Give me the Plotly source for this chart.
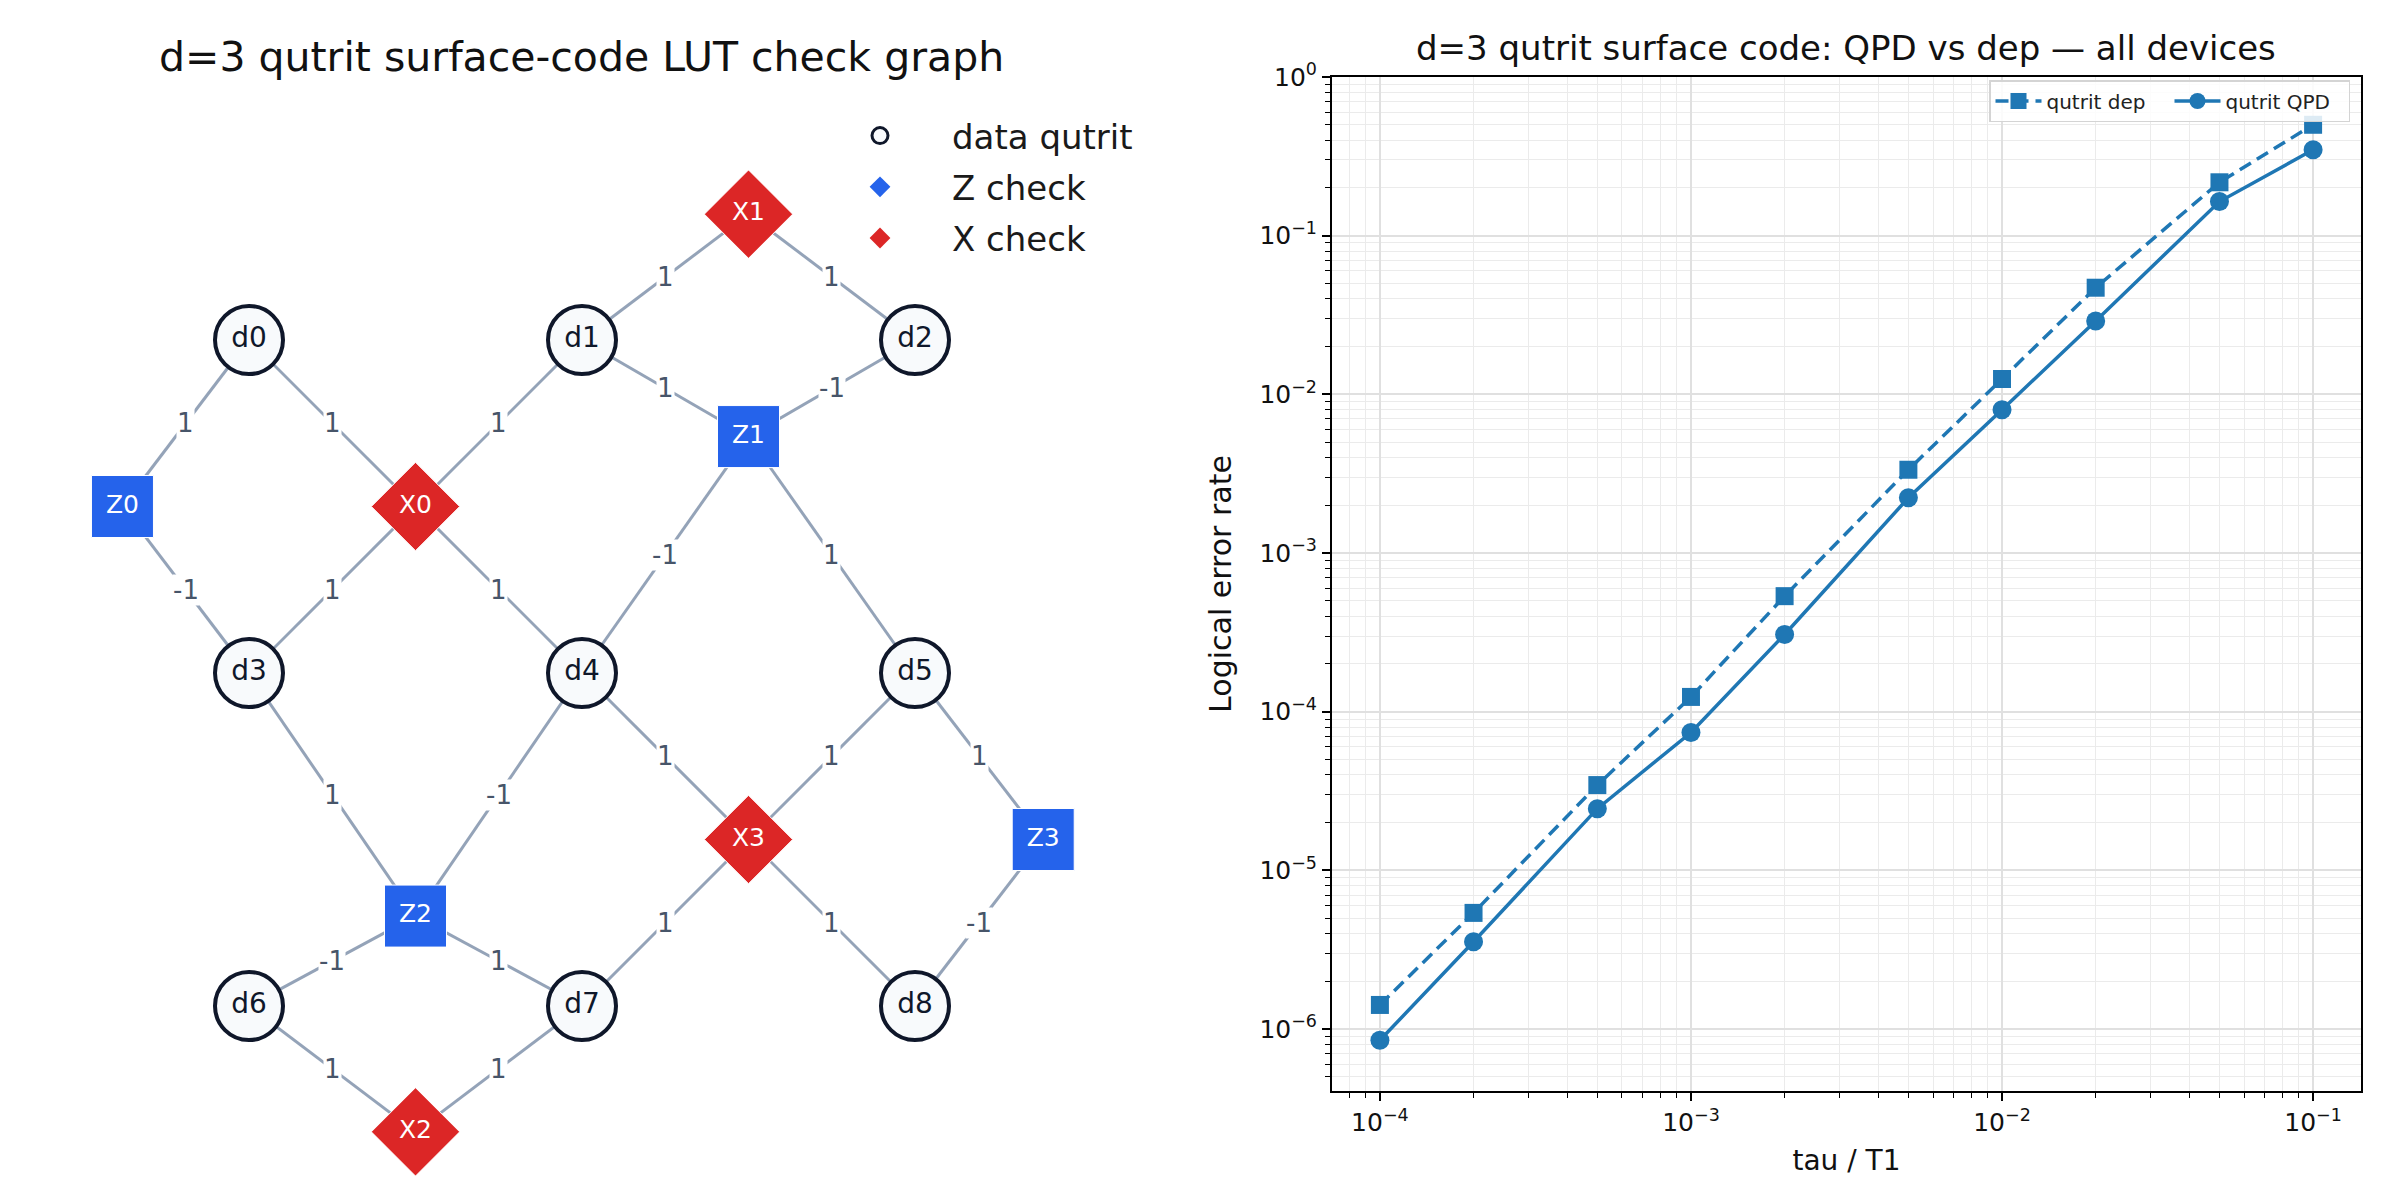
import plotly.graph_objects as go

# ---------------- Left panel: LUT check graph ----------------
data_names = ["d0", "d1", "d2", "d3", "d4", "d5", "d6", "d7", "d8"]
data_x = [0, 1, 2, 0, 1, 2, 0, 1, 2]
data_y = [0, 0, 0, -1, -1, -1, -2, -2, -2]

z_names = ["Z0", "Z1", "Z2", "Z3"]
z_x = [-0.38, 1.5, 0.5, 2.385]
z_y = [-0.5, -0.29, -1.73, -1.5]

x_names = ["X0", "X1", "X2", "X3"]
x_x = [0.5, 1.5, 0.5, 1.5]
x_y = [-0.5, 0.378, -2.378, -1.5]

edge_from = ["d0", "d0", "Z0", "X0", "X0", "X0", "d1", "X1", "d1", "d2", "Z1", "Z1",
             "d3", "d4", "d4", "d5", "d5", "Z2", "Z2", "X3", "X3", "Z3", "d6", "d7"]
edge_to = ["Z0", "X0", "d3", "d3", "d1", "d4", "X1", "d2", "Z1", "Z1", "d4", "d5",
           "Z2", "Z2", "X3", "X3", "Z3", "d6", "d7", "d7", "d8", "d8", "X2", "X2"]
edge_weight = [1, 1, -1, 1, 1, 1, 1, 1, 1, -1, -1, 1,
               1, -1, 1, 1, 1, -1, 1, 1, 1, -1, 1, 1]

# ---------------- Right panel: logical error rate ----------------
tau_T1 = [1e-4, 2e-4, 5e-4, 1e-3, 2e-3, 5e-3, 1e-2, 2e-2, 5e-2, 1e-1]
dep_rate = [1.42e-6, 5.4e-6, 3.45e-5, 1.24e-4, 5.35e-4, 3.35e-3, 1.25e-2, 4.7e-2, 0.217, 0.50]
qpd_rate = [8.5e-7, 3.55e-6, 2.45e-5, 7.4e-5, 3.07e-4, 2.23e-3, 8.0e-3, 2.9e-2, 0.164, 0.348]

x_tick_vals = [1e-4, 1e-3, 1e-2, 1e-1]
x_tick_text = ["10<sup>\u22124</sup>", "10<sup>\u22123</sup>", "10<sup>\u22122</sup>", "10<sup>\u22121</sup>"]
y_tick_vals = [1e-6, 1e-5, 1e-4, 1e-3, 1e-2, 1e-1, 1e0]
y_tick_text = ["10<sup>\u22126</sup>", "10<sup>\u22125</sup>", "10<sup>\u22124</sup>",
               "10<sup>\u22123</sup>", "10<sup>\u22122</sup>", "10<sup>\u22121</sup>", "10<sup>0</sup>"]

FONT = "DejaVu Sans"
EDGE_C = "#94a3b8"
LABEL_C = "#475569"
DARK = "#0f172a"
BLUE = "#2563eb"
RED = "#dc2626"
MPL = "#1f77b4"

pos = {}
for n, a, b in zip(data_names, data_x, data_y):
    pos[n] = (a, b)
for n, a, b in zip(z_names, z_x, z_y):
    pos[n] = (a, b)
for n, a, b in zip(x_names, x_x, x_y):
    pos[n] = (a, b)

fig = go.Figure()

ex, ey = [], []
for a, b in zip(edge_from, edge_to):
    ex += [pos[a][0], pos[b][0], None]
    ey += [pos[a][1], pos[b][1], None]
fig.add_trace(go.Scatter(x=ex, y=ey, mode="lines", line=dict(color=EDGE_C, width=3),
                         showlegend=False, hoverinfo="skip", xaxis="x", yaxis="y"))

annotations = []
for a, b, w in zip(edge_from, edge_to, edge_weight):
    mx = (pos[a][0] + pos[b][0]) / 2
    my = (pos[a][1] + pos[b][1]) / 2
    annotations.append(dict(x=mx, y=my, xref="x", yref="y", text=str(w), showarrow=False,
                            font=dict(family=FONT, size=26, color=LABEL_C),
                            bgcolor="white", borderpad=0))

fig.add_trace(go.Scatter(x=data_x, y=data_y, mode="markers+text", text=data_names,
                         textposition="middle center",
                         textfont=dict(family=FONT, size=28, color=DARK),
                         marker=dict(symbol="circle", size=68, color="#f8fafc",
                                     line=dict(color=DARK, width=4)),
                         showlegend=False, xaxis="x", yaxis="y"))
fig.add_trace(go.Scatter(x=z_x, y=z_y, mode="markers+text", text=z_names,
                         textposition="middle center",
                         textfont=dict(family=FONT, size=25, color="white"),
                         marker=dict(symbol="square", size=62, color=BLUE,
                                     line=dict(color="white", width=1)),
                         showlegend=False, xaxis="x", yaxis="y"))
fig.add_trace(go.Scatter(x=x_x, y=x_y, mode="markers+text", text=x_names,
                         textposition="middle center",
                         textfont=dict(family=FONT, size=25, color="white"),
                         marker=dict(symbol="diamond", size=68, color=RED,
                                     line=dict(color="white", width=1)),
                         showlegend=False, xaxis="x", yaxis="y"))

# legend-only entries for the graph
fig.add_trace(go.Scatter(x=[None], y=[None], mode="markers", name="data qutrit",
                         marker=dict(symbol="circle", size=16, color="#f8fafc",
                                     line=dict(color=DARK, width=3)),
                         legend="legend", legendgroup="g1", xaxis="x", yaxis="y"))
fig.add_trace(go.Scatter(x=[None], y=[None], mode="markers", name="Z check",
                         marker=dict(symbol="diamond", size=16, color=BLUE),
                         legend="legend", legendgroup="g2", xaxis="x", yaxis="y"))
fig.add_trace(go.Scatter(x=[None], y=[None], mode="markers", name="X check",
                         marker=dict(symbol="diamond", size=16, color=RED),
                         legend="legend", legendgroup="g3", xaxis="x", yaxis="y"))

# right panel traces
fig.add_trace(go.Scatter(x=tau_T1, y=dep_rate, mode="lines+markers", name="qutrit dep",
                         line=dict(color=MPL, width=3.5, dash="13px,7px"),
                         marker=dict(symbol="square", size=18, color=MPL),
                         legend="legend2", xaxis="x2", yaxis="y2"))
fig.add_trace(go.Scatter(x=tau_T1, y=qpd_rate, mode="lines+markers", name="qutrit QPD",
                         line=dict(color=MPL, width=3.5),
                         marker=dict(symbol="circle", size=19, color=MPL),
                         legend="legend2", xaxis="x2", yaxis="y2"))

W, H = 2398, 1177

annotations.append(dict(x=581 / W, y=1 - 57 / H, xref="paper", yref="paper",
                        text="d=3 qutrit surface-code LUT check graph", showarrow=False,
                        xanchor="center", yanchor="middle",
                        font=dict(family=FONT, size=41, color="#111111")))
annotations.append(dict(x=1846 / W, y=1 - 48 / H, xref="paper", yref="paper",
                        text="d=3 qutrit surface code: QPD vs dep \u2014 all devices",
                        showarrow=False, xanchor="center", yanchor="middle",
                        font=dict(family=FONT, size=34, color="#111111")))

minor_x = [k * 10.0 ** e for e in range(-5, 0) for k in range(2, 10)]
minor_y = [k * 10.0 ** e for e in range(-7, 0) for k in range(2, 10)]

fig.update_layout(
    width=W, height=H,
    margin=dict(l=0, r=0, t=0, b=0, autoexpand=False),
    paper_bgcolor="white", plot_bgcolor="white",
    font=dict(family=FONT, color="#111111"),
    annotations=annotations,
    xaxis=dict(domain=[0, 0.5], range=[-249 / 333, 950 / 333], visible=False,
               fixedrange=True, automargin=False),
    yaxis=dict(domain=[0, 1], range=[-837 / 333, 340 / 333], visible=False,
               fixedrange=True, automargin=False),
    xaxis2=dict(domain=[1332 / W, 2361 / W], anchor="y2", type="log",
                range=[-4.154, -0.846], automargin=False,
                tickmode="array", tickvals=x_tick_vals, ticktext=x_tick_text,
                tickfont=dict(family=FONT, size=25, color="#111111"),
                ticks="outside", ticklen=8, tickwidth=1.5, tickcolor="black",
                showline=True, linecolor="black", linewidth=2, mirror=True,
                showgrid=True, gridcolor="#e0e0e0", gridwidth=1.5,
                minor=dict(tickmode="array", tickvals=minor_x, ticks="outside",
                           ticklen=5, tickwidth=1.2, tickcolor="black",
                           showgrid=True, gridcolor="#ebebeb", gridwidth=1.2),
                title=dict(text="tau / T1", font=dict(family=FONT, size=28, color="#111111"),
                           standoff=14),
                zeroline=False),
    yaxis2=dict(domain=[86 / H, 1100 / H], anchor="x2", type="log",
                range=[-6.39, 0], automargin=False,
                tickmode="array", tickvals=y_tick_vals, ticktext=y_tick_text,
                tickfont=dict(family=FONT, size=25, color="#111111"),
                ticks="outside", ticklen=8, tickwidth=1.5, tickcolor="black",
                showline=True, linecolor="black", linewidth=2, mirror=True,
                showgrid=True, gridcolor="#e0e0e0", gridwidth=1.5,
                minor=dict(tickmode="array", tickvals=minor_y, ticks="outside",
                           ticklen=5, tickwidth=1.2, tickcolor="black",
                           showgrid=True, gridcolor="#ebebeb", gridwidth=1.2),
                title=dict(text="Logical error rate",
                           font=dict(family=FONT, size=30, color="#111111"), standoff=19),
                zeroline=False),
    legend=dict(x=808 / W, y=1 - 107 / H, xanchor="left", yanchor="top",
                font=dict(family=FONT, size=34, color="#1a1a1a"),
                bgcolor="rgba(0,0,0,0)", borderwidth=0,
                itemwidth=134, tracegroupgap=4, orientation="v"),
    legend2=dict(x=2350 / W, y=1 - 80 / H, xanchor="right", yanchor="top",
                 orientation="h", font=dict(family=FONT, size=20, color="#222222"),
                 bgcolor="rgba(255,255,255,0.85)", bordercolor="#d4d4d4", borderwidth=1.5,
                 itemwidth=46, entrywidth=118),
)

fig.write_html("out.html")
